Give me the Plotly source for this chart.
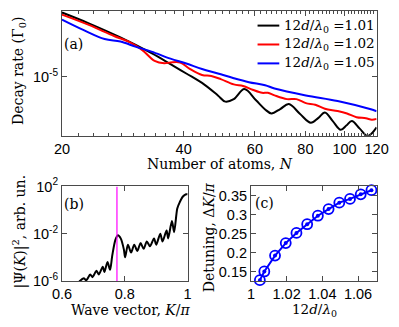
import plotly.graph_objects as go

W, H = 399, 327

# ---------- Panel (a): decay rate vs number of atoms (log10 of rate) ----------
n_black = [20, 23.3, 27.9, 33.3, 37.1, 40.6, 44.4, 48.6, 50.7, 53.2, 56.5, 60.3, 63.6, 65.9,
           69.3, 72.8, 77.5, 82.5, 86.0, 89.4, 93.5, 97.8, 101.0, 104.2, 109.0, 113.9, 117.0, 120]
lg_black = [-4.483, -4.570, -4.684, -4.811, -4.899, -4.975, -5.051, -5.152, -5.202, -5.182, -5.101,
            -5.189, -5.265, -5.297, -5.262, -5.222, -5.300, -5.373, -5.335, -5.290, -5.360, -5.430,
            -5.395, -5.358, -5.420, -5.480, -5.455, -5.410]

n_red = [20, 23.3, 26.9, 29.4, 31.6, 33.9, 35.8, 37.1, 39.2, 41.4, 44.4, 46.8, 49.4, 53.2, 56.1,
         59.2, 62.5, 64.6, 67.1, 72.0, 76.0, 80.2, 84.6, 89.4, 96.1, 101.4, 107.0, 112.9, 116.8, 120]
lg_red = [-4.500, -4.583, -4.672, -4.722, -4.786, -4.873, -4.892, -4.886, -4.886, -4.937, -4.987,
          -4.995, -5.020, -5.063, -5.076, -5.106, -5.131, -5.131, -5.152, -5.182, -5.182, -5.214,
          -5.227, -5.260, -5.278, -5.298, -5.328, -5.336, -5.348, -5.341]

n_blue = [20, 22.5, 25.5, 27.9, 30.5, 33.3, 37.1, 40.6, 44.4, 48.6, 53.2, 58.0, 63.6, 67.1,
          80.2, 96.1, 114.9, 120]
lg_blue = [-4.540, -4.621, -4.697, -4.717, -4.760, -4.798, -4.855, -4.894, -4.939, -4.975, -5.013,
           -5.045, -5.070, -5.096, -5.152, -5.197, -5.260, -5.280]

ratios = ["1.01", "1.02", "1.05"]
x_ticks_a = [20, 40, 60, 80, 100, 120]
x_minor_a = [v for v in range(22, 120, 2) if v not in x_ticks_a]

# ---------- Panel (b): |Psi(K)|^2 vs K/pi (log10 values) ----------
k_b = [0.655, 0.670, 0.677, 0.690, 0.697, 0.710, 0.717, 0.730, 0.735, 0.745, 0.753, 0.760, 0.770,
       0.778, 0.787, 0.797, 0.801, 0.810, 0.820, 0.830, 0.840, 0.850, 0.860, 0.870, 0.880, 0.893,
       0.900, 0.913, 0.920, 0.933, 0.938, 0.950, 0.957, 0.967, 0.975, 0.985, 0.995, 1.0]
lg_psi = [-6.05, -5.78, -5.95, -5.46, -5.68, -5.14, -5.46, -4.80, -5.25, -4.40, -5.06, -3.86, -2.53,
          -2.13, -2.40, -3.33, -4.00, -2.93, -3.60, -2.93, -3.46, -2.80, -3.28, -2.66, -3.06, -2.40,
          -2.93, -2.00, -2.66, -1.73, -2.40, -0.93, -1.87, 0.13, 0.67, 1.15, 1.34, 1.34]
k_marker = 0.775

# ---------- Panel (c): detuning vs 12d/lambda0 ----------
ratio_c = [1.005, 1.0075, 1.0135, 1.0195, 1.0255, 1.0315, 1.0375, 1.0435, 1.0495, 1.0555, 1.0615, 1.0675]
detuning = [0.127, 0.150, 0.192, 0.225, 0.252, 0.275, 0.2975, 0.315, 0.332, 0.342, 0.354, 0.365]

AX = "#4a4a4a"
TICKF = dict(family="Liberation Sans, Arial", size=14.5, color="black")
SERIF = "DejaVu Serif"
colors_a = ["black", "#ff0000", "#0000ff"]


def px(x):
    return x / W


def py(y):
    return 1 - y / H


fig = go.Figure()

for n, lg, col, r in [(n_black, lg_black, colors_a[0], ratios[0]),
                      (n_red, lg_red, colors_a[1], ratios[1]),
                      (n_blue, lg_blue, colors_a[2], ratios[2])]:
    fig.add_trace(go.Scatter(x=n, y=[10 ** v for v in lg], mode="lines",
                             line=dict(color=col, width=2, shape="spline", smoothing=1.0),
                             name="12d/λ0 =" + r, showlegend=False,
                             xaxis="x", yaxis="y"))

fig.add_trace(go.Scatter(x=k_b, y=[10 ** v for v in lg_psi], mode="lines",
                         line=dict(color="black", width=2, shape="spline", smoothing=0.8),
                         showlegend=False, xaxis="x2", yaxis="y2"))
fig.add_trace(go.Scatter(x=[k_marker, k_marker], y=[1e-6, 1e2], mode="lines",
                         line=dict(color="#ff00ff", width=1.2),
                         showlegend=False, xaxis="x2", yaxis="y2"))

fig.add_trace(go.Scatter(x=ratio_c, y=detuning, mode="lines+markers",
                         line=dict(color="#0000ff", width=2),
                         marker=dict(size=4, color="#0000ff"),
                         showlegend=False, xaxis="x3", yaxis="y3"))
fig.add_trace(go.Scatter(x=ratio_c, y=detuning, mode="markers",
                         marker=dict(size=10, color="#0000ff", symbol="circle-open",
                                     line=dict(color="#0000ff", width=1.8)),
                         showlegend=False, xaxis="x3", yaxis="y3", cliponaxis=False))

common = dict(showline=True, linecolor=AX, linewidth=1, mirror="ticks", ticks="inside",
              tickcolor=AX, ticklen=5, tickwidth=1, showgrid=False, zeroline=False,
              tickfont=TICKF)

fig.update_layout(
    width=W, height=H, autosize=False,
    margin=dict(l=0, r=0, t=0, b=0),
    paper_bgcolor="white", plot_bgcolor="white",
    showlegend=False,
    xaxis=dict(type="log", range=[1.30103, 2.07918], domain=[px(55), px(388)], anchor="y",
               tickmode="array", tickvals=x_ticks_a, ticktext=[str(v) for v in x_ticks_a],
               minor=dict(tickmode="array", tickvals=x_minor_a, ticks="inside", ticklen=3,
                          tickcolor=AX),
               **common),
    yaxis=dict(type="log", range=[-5.477, -4.47], domain=[py(133), py(1)], anchor="x",
               tickmode="array", tickvals=[1e-5], ticktext=["10<sup>-5</sup>"], **common),
    xaxis2=dict(range=[0.6, 1.0], domain=[px(55), px(188)], anchor="y2",
                tickmode="array", tickvals=[0.6, 0.8, 1.0], ticktext=["0.6", "0.8", "1"], **common),
    yaxis2=dict(type="log", range=[-6, 2], domain=[py(286.7), py(186.7)], anchor="x2",
                tickmode="array", tickvals=[1e-6, 1e-2, 1e2],
                ticktext=["10<sup>-6</sup>", "10<sup>-2</sup>", "10<sup>2</sup>"], **common),
    xaxis3=dict(range=[1.0, 1.0704], domain=[px(255), px(388)], anchor="y3",
                tickmode="array", tickvals=[1.0, 1.02, 1.04, 1.06],
                ticktext=["1", "1.02", "1.04", "1.06"], **common),
    yaxis3=dict(range=[0.125, 0.375], domain=[py(286.7), py(186.7)], anchor="x3",
                tickmode="array", tickvals=[0.15, 0.2, 0.25, 0.3, 0.35],
                ticktext=["0.15", "0.2", "0.25", "0.3", "0.35"], **common),
)

# legend for panel (a): line samples + labels
for i, (col, r) in enumerate(zip(colors_a, ratios)):
    yy = 16.5 + 20 * i
    fig.add_shape(type="line", xref="paper", yref="paper", x0=px(262), x1=px(285),
                  y0=py(yy), y1=py(yy), line=dict(color=col, width=2))
    fig.add_annotation(text="12<i>d</i>/<i>λ</i><sub>0</sub> =" + r, x=px(288), y=py(yy),
                       xref="paper", yref="paper", xanchor="left", yanchor="middle",
                       showarrow=False, font=dict(family=SERIF, size=13.5, color="black"))

annots = [
    ("Decay rate (Γ<sub>0</sub>)", 10, 64, -90, 14),
    ("Number of atoms, <i>N</i>", 222, 163, 0, 14),
    ("|Ψ(<i>K</i>)|<sup>2</sup>, arb. un.", 10, 234, -90, 14),
    ("Wave vector, <i>K</i>/<i>π</i>", 128, 318, 0, 14),
    ("Detuning, Δ<i>K</i>/<i>π</i>", 210, 240, -90, 14),
    ("12<i>d</i>/<i>λ</i><sub>0</sub>", 322, 318, 0, 13.5),
]
for text, x, y, ang, fs in annots:
    fig.add_annotation(text=text, x=px(x), y=py(y), xref="paper", yref="paper",
                       xanchor="center", yanchor="middle", showarrow=False, textangle=ang,
                       font=dict(family=SERIF, size=fs, color="black"))

for text, x, y in [("(a)", 67, 36), ("(b)", 68, 205), ("(c)", 269, 204)]:
    fig.add_annotation(text=text, x=px(x), y=py(y), xref="paper", yref="paper",
                       xanchor="center", yanchor="middle", showarrow=False,
                       font=dict(family=SERIF, size=14, color="black"))

fig.write_html("out.html", config={"displayModeBar": False, "staticPlot": True},
               post_script="document.body.style.margin='0';document.body.style.padding='0';")
